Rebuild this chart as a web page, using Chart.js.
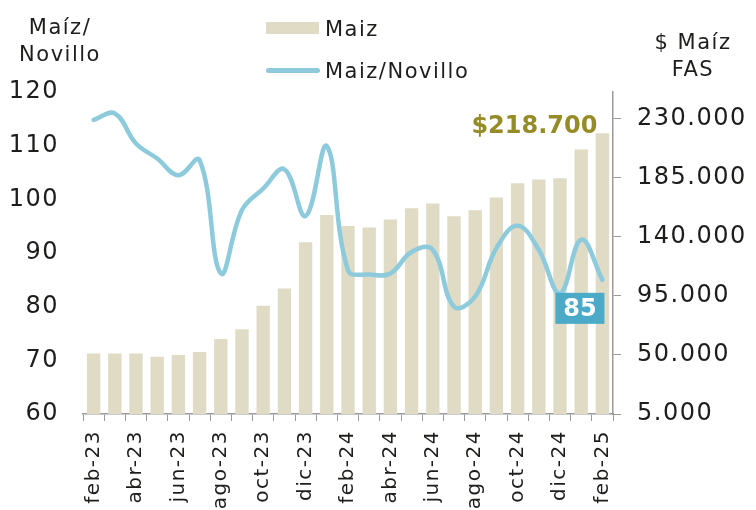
<!DOCTYPE html>
<html>
<head>
<meta charset="utf-8">
<script src="https://cdn.jsdelivr.net/npm/chart.js@4/dist/chart.umd.min.js"></script>
<style>
html,body{margin:0;padding:0;background:#fff;}
#wrap{position:relative;width:756px;height:510px;overflow:hidden;}
#c{position:absolute;left:0;top:0;}
.t{position:absolute;font-family:'DejaVu Sans',sans-serif;color:#1d1d1b;font-size:21px;letter-spacing:1.5px;white-space:nowrap;}
.ttl{text-align:center;line-height:27px;}
.sw{position:absolute;}
</style>
</head>
<body>
<div id="wrap">
<canvas id="c" width="756" height="510"></canvas>
<div class="t ttl" style="left:10px;top:14px;width:100px;">Maíz/<br>Novillo</div>
<div class="t ttl" style="left:643px;top:29px;width:100px;">$ Maíz<br>FAS</div>
<div class="sw" style="left:266px;top:22px;width:53px;height:12px;background:#dfdbc5;"></div>
<div class="t" id="lg1" style="left:325px;top:17px;"></div>
<div class="sw" style="left:266px;top:68px;width:54px;height:5px;border-radius:3px;background:#8dcbdc;"></div>
<div class="t" id="lg2" style="left:325px;top:59px;"></div>
</div>
<script>
const categories = ['feb-23','mar-23','abr-23','may-23','jun-23','jul-23','ago-23','sep-23','oct-23','nov-23','dic-23','ene-24','feb-24','mar-24','abr-24','may-24','jun-24','jul-24','ago-24','sep-24','oct-24','nov-24','dic-24','ene-25','feb-25'];
const seriesBarName = 'Maiz';
const seriesLineName = 'Maiz/Novillo';
const maizFAS = [51000,51000,51000,48500,49800,52100,62000,69400,87300,100500,135700,156500,148100,146900,153000,161600,165100,155500,160100,169700,180600,183400,184400,206200,218700];
const maizNovillo = [114.8,116.0,110.4,107.6,104.5,107.3,86.2,98.0,102.0,105.6,96.9,109.9,86.8,86.0,86.2,90.2,90.6,80.0,81.9,90.9,95.1,90.6,82.5,92.5,85];
const leftTickValues = [60,70,80,90,100,110,120];
const rightTickValues = [5000,50000,95000,140000,185000,230000];
const rightAxisMax = 250000;

document.getElementById('lg1').textContent = seriesBarName;
document.getElementById('lg2').textContent = seriesLineName;

const fmt = n => String(Math.round(n)).replace(/\B(?=(\d{3})+(?!\d))/g, '.');
const FONT = "'DejaVu Sans', sans-serif";
const TXT = '#1d1d1b';
const AX = '#9a9a9a';

const spacingPlugin = {
  id: 'spacing',
  beforeDraw(chart){ try { chart.ctx.letterSpacing = '1.5px'; } catch(e){} }
};

const labelsPlugin = {
  id: 'dlabels',
  afterDatasetsDraw(chart){
    const ctx = chart.ctx;
    const barMeta = chart.getDatasetMeta(0);
    const lineMeta = chart.getDatasetMeta(1);
    const bi = maizFAS.length - 1;
    const bar = barMeta.data[bi];
    const pt = lineMeta.data[maizNovillo.length - 1];
    ctx.save();
    try { ctx.letterSpacing = '0px'; } catch(e){}
    ctx.font = "bold 24px " + FONT;
    ctx.fillStyle = '#958b27';
    ctx.textAlign = 'right';
    ctx.textBaseline = 'alphabetic';
    ctx.fillText('$' + fmt(maizFAS[bi]), bar.x - 5, bar.y);
    const bw = 49, bh = 31;
    const bx = pt.x + 2 - bw, by = pt.y + 13;
    ctx.fillStyle = '#4aaac8';
    ctx.fillRect(bx, by, bw, bh);
    ctx.fillStyle = '#ffffff';
    ctx.textAlign = 'center';
    ctx.textBaseline = 'middle';
    ctx.font = "bold 24px " + FONT;
    ctx.fillText(String(maizNovillo[maizNovillo.length - 1]), bx + bw/2, by + bh/2 + 1);
    ctx.restore();
  }
};

new Chart(document.getElementById('c'), {
  data: {
    labels: categories,
    datasets: [
      {
        type: 'bar', label: seriesBarName, data: maizFAS, yAxisID: 'y1',
        backgroundColor: '#dfdbc5', borderWidth: 0,
        barPercentage: 0.63, categoryPercentage: 1.0, order: 2
      },
      {
        type: 'line', label: seriesLineName, data: maizNovillo, yAxisID: 'y',
        borderColor: '#8dcbdc', borderWidth: 4.5, pointRadius: 0, tension: 0.4,
        fill: false, order: 1, borderCapStyle: 'round'
      }
    ]
  },
  options: {
    responsive: false,
    animation: false,
    layout: { padding: { top: 92, left: 0, right: 0, bottom: 0 } },
    plugins: { legend: { display: false }, tooltip: { enabled: false } },
    scales: {
      x: {
        grid: { display: true, drawOnChartArea: false, drawTicks: true, tickLength: 7, color: AX, offset: true, lineWidth: 1 },
        border: { display: true, color: AX, width: 1.5 },
        ticks: {
          autoSkip: false, maxRotation: 90, minRotation: 90, padding: 9,
          color: TXT, font: { family: FONT, size: 20 },
          callback: function(v, i){ return i % 2 === 0 ? categories[i] : ''; }
        },
        afterFit(s){ s.height = 96; }
      },
      y: {
        position: 'left', min: leftTickValues[0], max: leftTickValues[leftTickValues.length - 1],
        grid: { display: false, drawTicks: false },
        border: { display: false },
        ticks: { padding: 24, color: TXT, font: { family: FONT, size: 24 } },
        afterBuildTicks(s){ s.ticks = leftTickValues.map(v => ({ value: v })); },
        afterFit(s){ s.width = 83; }
      },
      y1: {
        position: 'right', min: rightTickValues[0], max: rightAxisMax,
        grid: { display: true, drawOnChartArea: false, drawTicks: true, tickLength: 8, color: AX },
        border: { display: true, color: AX, width: 1.5 },
        ticks: {
          padding: 16, color: TXT, font: { family: FONT, size: 24 },
          callback: v => fmt(v)
        },
        afterBuildTicks(s){ s.ticks = rightTickValues.map(v => ({ value: v })); },
        afterFit(s){ s.width = 143; }
      }
    }
  },
  plugins: [spacingPlugin, labelsPlugin]
});
</script>
</body>
</html>
